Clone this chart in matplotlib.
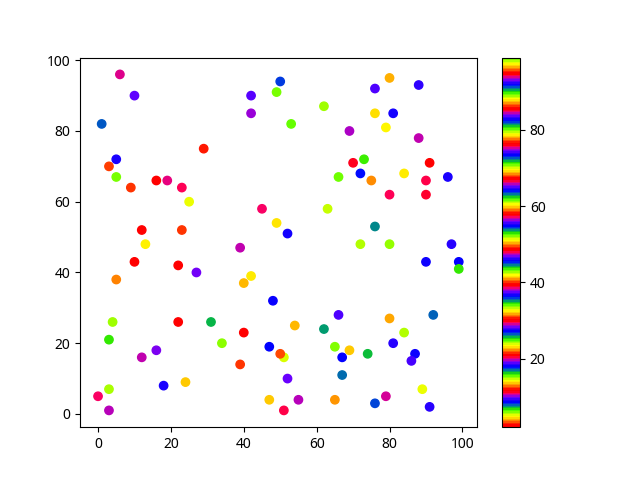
import matplotlib
matplotlib.use("Agg")
import matplotlib.pyplot as plt

plt.rcParams['font.family'] = ['Noto Sans', 'DejaVu Sans']

x = [0, 3, 3, 3, 4, 5, 10, 12, 13, 9,
     16, 19, 23, 25, 23, 22, 22, 27, 12, 16,
     18, 24, 31, 34, 39, 40, 42, 40, 39, 48,
     47, 47, 51, 50, 51, 52, 55, 54, 62, 66,
     65, 69, 67, 67, 65, 74, 76, 79, 80, 81,
     84, 87, 86, 89, 91, 92, 90, 99, 99, 97,
     72, 80, 76, 52, 49, 45, 63, 80, 90, 90,
     96, 84, 75, 72, 66, 70, 73, 91, 88, 69,
     79, 53, 76, 81, 62, 42, 42, 49, 50, 76,
     80, 88, 1, 10, 6, 5, 3, 5, 29]
y = [5, 1, 7, 21, 26, 38, 43, 52, 48, 64,
     66, 66, 64, 60, 52, 42, 26, 40, 16, 18,
     8, 9, 26, 20, 14, 23, 39, 37, 47, 32,
     19, 4, 16, 17, 1, 10, 4, 25, 24, 28,
     19, 18, 16, 11, 4, 17, 3, 5, 27, 20,
     23, 17, 15, 7, 2, 28, 43, 43, 41, 48,
     48, 48, 53, 51, 54, 58, 58, 62, 62, 66,
     67, 68, 66, 68, 67, 71, 72, 71, 78, 80,
     81, 82, 85, 85, 87, 85, 90, 91, 94, 92,
     95, 93, 82, 90, 96, 72, 70, 67, 75]
c = [11.05, 19.54, 24.04, 34.49, 42.84, 49.80, 57.92, 67.06, 78.58, 86.24,
     2.23, 19.87, 29.38, 32.87, 40.06, 48.50, 57.78, 74.63, 84.52, 92.97,
     9.19, 13.60, 25.67, 33.47, 40.06, 48.50, 60.01, 68.73, 84.52, 91.81,
     8.73, 13.51, 23.81, 31.15, 48.18, 55.93, 65.95, 68.83, 81.37, 92.73,
     5.94, 13.69, 27.29, 35.42, 40.99, 53.28, 63.72, 75.14, 78.12, 92.27,
     5.62, 18.24, 28.08, 32.73, 46.00, 53.98, 64.42, 73.47, 80.67, 92.27,
     5.62, 14.90, 25.99, 36.72, 41.45, 57.32, 61.03, 75.88, 85.17, 94.45,
     9.19, 14.06, 22.32, 36.35, 43.21, 57.46, 61.87, 67.06, 84.52, 93.66,
     5.02, 15.46, 22.88, 36.58, 42.84, 56.53, 65.21, 70.91, 82.06, 92.73,
     3.95, 18.47, 26.36, 37.37, 47.72, 55.14, 58.62, 70.68, 76.72]

fig = plt.figure(figsize=(6.4, 4.8), dpi=100)
sc = plt.scatter(x, y, c=c, cmap="prism", vmin=2, vmax=99)
plt.colorbar(sc)
fig.savefig("out.png")
